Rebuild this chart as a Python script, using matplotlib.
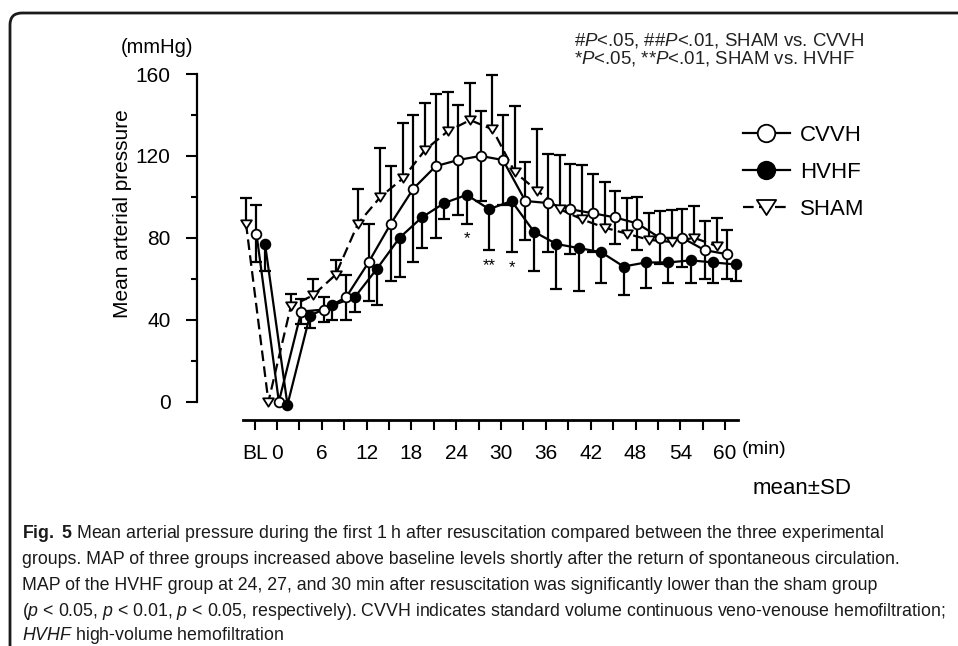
import numpy as np
import matplotlib
matplotlib.use('Agg')
import matplotlib.pyplot as plt
from matplotlib.lines import Line2D
from matplotlib.patches import FancyBboxPatch
from matplotlib.path import Path

plt.rcParams['font.family'] = ['Liberation Sans', 'DejaVu Sans']
plt.rcParams['mathtext.fontset'] = 'custom'
plt.rcParams['mathtext.rm'] = 'Liberation Sans'
plt.rcParams['mathtext.it'] = 'Liberation Sans:italic'
plt.rcParams['mathtext.bf'] = 'Liberation Sans:bold'

# time points in min, BL drawn one step before 0
times = [-3, 0, 3, 6, 9, 12, 15, 18, 21, 24, 27, 30, 33, 36, 39, 42, 45, 48, 51, 54, 57, 60]
tick_pos = [-3, 0, 6, 12, 18, 24, 30, 36, 42, 48, 54, 60]
tick_labels = ['BL', '0', '6', '12', '18', '24', '30', '36', '42', '48', '54', '60']

cvvh_mean = [82, 0, 44, 45, 51, 68, 87, 104, 115, 118, 120, 118, 98, 97, 94, 92, 90, 87, 80, 80, 74, 72]
cvvh_sd = [14, 0, 6, 6, 11, 19, 28, 36, 35, 27, 22, 22, 19, 24, 22, 19, 13, 13, 13, 14, 14, 12]
hvhf_mean = [77, -1.5, 42, 47, 51, 65, 80, 90, 97, 101, 94, 98, 83, 77, 75, 73, 66, 68, 68, 69, 68, 67]
hvhf_sd = [13, 0, 6, 7, 7, 18, 19, 15, 8, 14, 20, 25, 19, 22, 21, 15, 14, 12.5, 10, 11, 10, 8]
sham_mean = [87, 0, 46.5, 52, 62, 87, 100, 109, 123, 132, 137.5, 133, 112, 103, 94, 89, 85, 82, 79, 78, 80, 76]
sham_sd = [12.5, 0, 6, 8, 7, 17, 24, 27, 23, 19, 18, 26.5, 32.5, 30, 26.5, 26.5, 22.5, 17.5, 13, 15.5, 15.5, 13.5]

# SHAM vs. HVHF significance
sig_times = [24, 27, 30]
sig_marks = ['*', '**', '*']

caption = [
    r'$\mathbf{Fig.\ 5}$ Mean arterial pressure during the first 1 h after resuscitation compared between the three experimental',
    'groups. MAP of three groups increased above baseline levels shortly after the return of spontaneous circulation.',
    'MAP of the HVHF group at 24, 27, and 30 min after resuscitation was significantly lower than the sham group',
    r'($p$ < 0.05, $p$ < 0.01, $p$ < 0.05, respectively). CVVH indicates standard volume continuous veno-venouse hemofiltration;',
    r'$\mathit{HVHF}$ high-volume hemofiltration',
]

W, H = 958, 646
fig = plt.figure(figsize=(W / 100, H / 100), dpi=100)

# frame round the figure, open to the right and bottom
frame = FancyBboxPatch((0.10, -0.5), 10, 6.83, boxstyle='round,pad=0,rounding_size=0.12',
                       transform=fig.dpi_scale_trans, fill=False, lw=2, ec='#1a1a1a')
fig.add_artist(frame)

ax = fig.add_axes([197 / W, 1 - 420 / H, (737.5 - 197) / W, (420 - 74) / H])
ax.set_xlim(-10.71, 61.65)
ax.set_ylim(-8.94, 160)
for s in ['top', 'right']:
    ax.spines[s].set_visible(False)
ax.spines['left'].set_bounds(0, 160)
ax.spines['bottom'].set_bounds(-4.55, 61.65)
ax.spines['left'].set_linewidth(1.6)
ax.spines['bottom'].set_linewidth(2)

ax.set_yticks([0, 40, 80, 120, 160])
ax.set_yticks([20, 60, 100, 140], minor=True)
ax.set_xticks(tick_pos)
ax.set_xticklabels(tick_labels)
ax.set_xticks([3, 9, 15, 21, 27, 33, 39, 45, 51, 57], minor=True)
ax.tick_params(axis='y', which='major', direction='out', length=8, width=1.5, labelsize=15, pad=11)
ax.tick_params(axis='y', which='minor', direction='out', length=4, width=1.5)
ax.tick_params(axis='x', which='both', direction='out', length=7, width=1.5, labelsize=15, pad=10)

tri = Path([(-1, 0.78), (1, 0.78), (0, -0.78), (-1, 0.78)],
           [Path.MOVETO, Path.LINETO, Path.LINETO, Path.CLOSEPOLY])


def draw_group(offset, mean, sd, up, down, ls, marker, mfc, ms):
    x = np.array(times, dtype=float) + offset
    mean = np.array(mean, dtype=float)
    sd = np.array(sd, dtype=float)
    m = sd > 0
    lo = mean - sd if down else mean
    hi = mean + sd if up else mean
    ax.vlines(x[m], lo[m], hi[m], colors='k', lw=1.6, zorder=2, clip_on=False)
    ends = []
    if down:
        ends.append(lo[m])
    if up:
        ends.append(hi[m])
    ax.plot(np.tile(x[m], len(ends)), np.concatenate(ends), ls='none', marker='_',
            ms=8.6, mew=1.6, color='k', zorder=2, clip_on=False)
    ax.plot(x, mean, color='k', lw=1.6, ls=ls, zorder=3, clip_on=False)
    ax.plot(x, mean, ls='none', marker=marker, ms=ms, mfc=mfc, mec='k', mew=1.3,
            zorder=4, clip_on=False)


draw_group(-1.15, sham_mean, sham_sd, True, False, (0, (4.8, 2.4)), tri, 'white', 7.7)
draw_group(0.25, cvvh_mean, cvvh_sd, True, True, '-', 'o', 'white', 7)
draw_group(1.4, hvhf_mean, hvhf_sd, False, True, '-', 'o', 'k', 7)

for t, mark in zip(sig_times, sig_marks):
    i = times.index(t)
    ax.text(t + 1.4, hvhf_mean[i] - hvhf_sd[i] - 9.6, mark, ha='center', va='baseline', fontsize=12)

handles = [
    Line2D([], [], color='k', lw=1.6, marker='o', ms=7, mfc='white', mec='k', mew=1.3, label='CVVH'),
    Line2D([], [], color='k', lw=1.6, marker='o', ms=7, mfc='k', mec='k', mew=1.3, label='HVHF'),
    Line2D([], [], color='k', lw=1.6, ls=(0, (4.8, 2.4)), marker=tri, ms=7.7, mfc='white', mec='k',
           mew=1.3, label='SHAM'),
]
ax.legend(handles=handles, loc='upper left', bbox_to_anchor=(743 / W, 1 - 125 / H),
          bbox_transform=fig.transFigure, frameon=False, fontsize=16, handlelength=2.1,
          handletextpad=0.45, labelspacing=0.72, borderpad=0, borderaxespad=0, markerscale=1.8)

fig.text(157 / W, 1 - 47.5 / H, '(mmHg)', ha='center', va='center', fontsize=14.5)
fig.text(122 / W, 1 - 213.5 / H, 'Mean arterial pressure', rotation=90, ha='center', va='center', fontsize=15)
fig.text(742 / W, 1 - 450 / H, '(min)', va='center', fontsize=14)
fig.text(753 / W, 1 - 488 / H, 'mean±SD', va='center', fontsize=16)

fig.text(574 / W, 1 - 40 / H, r'#$P$<.05, ##$P$<.01, SHAM vs. CVVH', va='center', fontsize=13.4, color='#222222')
fig.text(574 / W, 1 - 58 / H, r'*$P$<.05, **$P$<.01, SHAM vs. HVHF', va='center', fontsize=13.4, color='#222222')

cap_y = [534, 560, 586, 612, 636]
cap_texts = [fig.text(22 / W, 1 - y / H, line, va='center', fontsize=12, color='#1a1a1a')
             for line, y in zip(caption, cap_y)]
# fit caption size so the longest line stays inside the picture
renderer = fig.canvas.get_renderer()
w = max(t.get_window_extent(renderer).width for t in cap_texts)
for t in cap_texts:
    t.set_fontsize(12 * 918 / w)

fig.savefig('out.png', dpi=100)
